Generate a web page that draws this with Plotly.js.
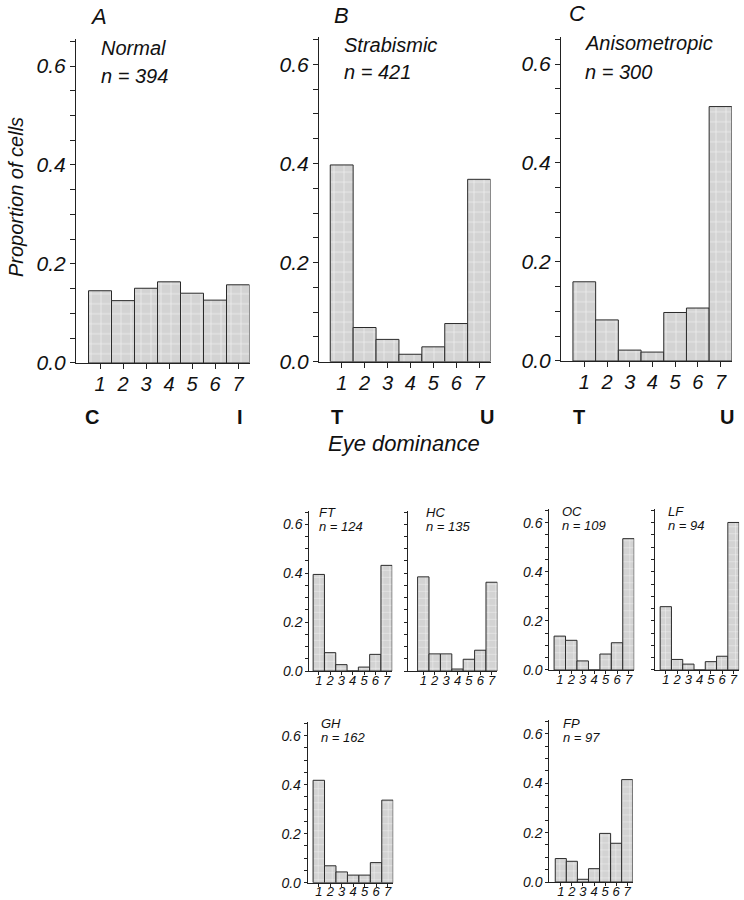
<!DOCTYPE html>
<html>
<head>
<meta charset="utf-8">
<script src="https://cdn.plot.ly/plotly-3.0.1.min.js"></script>
<style>html,body{margin:0;padding:0;background:#fff;}#chart{width:744px;height:900px;}</style>
</head>
<body>
<div id="chart"></div>
<script>
// ---------- DATA ----------
const categories = [1, 2, 3, 4, 5, 6, 7];
const normalVals = [0.146, 0.126, 0.151, 0.164, 0.141, 0.127, 0.158];
const strabVals  = [0.397, 0.069, 0.045, 0.015, 0.030, 0.077, 0.368];
const anisoVals  = [0.160, 0.083, 0.022, 0.018, 0.098, 0.107, 0.514];
const ftVals = [0.395, 0.075, 0.026, 0.000, 0.016, 0.068, 0.432];
const hcVals = [0.385, 0.070, 0.070, 0.008, 0.048, 0.085, 0.363];
const ocVals = [0.138, 0.121, 0.037, 0.000, 0.065, 0.111, 0.535];
const lfVals = [0.258, 0.043, 0.024, 0.000, 0.034, 0.056, 0.601];
const ghVals = [0.418, 0.069, 0.044, 0.031, 0.031, 0.082, 0.337];
const fpVals = [0.095, 0.084, 0.011, 0.054, 0.197, 0.157, 0.415];
const panelLetters = ['A', 'B', 'C'];
const groupNames = ['Normal', 'Strabismic', 'Anisometropic', 'FT', 'HC', 'OC', 'LF', 'GH', 'FP'];
const groupN = [394, 421, 300, 124, 135, 109, 94, 162, 97];
const endLabels = [['C', 'I'], ['T', 'U'], ['T', 'U']];
const yTickVals = [0, 0.2, 0.4, 0.6];
const yTickText = ['0.0', '0.2', '0.4', '0.6'];
const yAxisLabel = 'Proportion of cells';
const xAxisLabel = 'Eye dominance';

// ---------- GEOMETRY (pixels) ----------
const W = 744, H = 900;
const px = v => v / W;
const py = v => 1 - v / H;
const FONT = 'Liberation Sans, Arial, Helvetica, sans-serif';

const seriesVals = [normalVals, strabVals, anisoVals, ftVals, hcVals, ocVals, lfVals, ghVals, fpVals];
const geo = [
  {ax: 76,    c1: 100,   sp: 23,    zy: 363,   u: 495,   big: true,  yl: true},
  {ax: 319,   c1: 341.7, sp: 22.9,  zy: 361.7, u: 495.6, big: true,  yl: true},
  {ax: 561,   c1: 584.3, sp: 22.7,  zy: 361,   u: 495,   big: true,  yl: true},
  {ax: 309.3, c1: 318.8, sp: 11.3,  zy: 671,   u: 244.5, big: false, yl: true},
  {ax: 408.3, c1: 423.3, sp: 11.4,  zy: 671,   u: 244.5, big: false, yl: false},
  {ax: 549.3, c1: 559.8, sp: 11.45, zy: 670,   u: 245.5, big: false, yl: true},
  {ax: 655,   c1: 665.8, sp: 11.28, zy: 670,   u: 245.5, big: false, yl: false},
  {ax: 307.7, c1: 318.8, sp: 11.45, zy: 882.7, u: 245,   big: false, yl: true},
  {ax: 549.3, c1: 560.8, sp: 11.07, zy: 882,   u: 246.7, big: false, yl: true}
];
const txt = [
  [99, 48, 76], [342, 45, 72], [583, 43, 72],
  [317, 512, 526], [424, 512, 526], [560, 511, 525], [666, 511, 525],
  [319, 723, 737], [561, 723, 737]
];
const letterPos = [[88, 17], [332, 15], [567, 14]];
const endPos = [[91.5, 240], [336.7, 487], [579, 727]];
const YMAX = 0.655;

const traces = [];
const layout = {
  width: W, height: H,
  margin: {l: 0, r: 0, t: 0, b: 0},
  paper_bgcolor: '#fff', plot_bgcolor: 'rgba(0,0,0,0)',
  showlegend: false,
  bargap: 0,
  annotations: []
};

geo.forEach((g, i) => {
  const k = i === 0 ? '' : String(i + 1);
  const right = g.c1 + 6 * g.sp + g.sp / 2;
  const r0 = 1 - (g.c1 - g.ax) / g.sp;
  const topPx = g.zy - YMAX * g.u;
  traces.push({
    type: 'bar',
    x: categories,
    y: seriesVals[i],
    width: 1,
    xaxis: 'x' + k, yaxis: 'y' + k,
    marker: {
      color: '#d3d3d3',
      line: {color: '#2a2a2a', width: 1},
      pattern: {shape: '+', bgcolor: '#d3d3d3', fgcolor: '#f4f4f4', size: g.big ? 10 : 7, solidity: 0.12}
    },
    hoverinfo: 'skip'
  });
  layout['xaxis' + k] = {
    domain: [px(g.ax), px(right)],
    range: [r0, 7.5],
    anchor: 'y' + k,
    tickvals: categories,
    ticktext: categories.map(String),
    ticks: 'outside', ticklen: g.big ? 5 : 3, tickwidth: 1, tickcolor: '#222',
    ticklabelstandoff: g.big ? -2 : -6,
    showline: true, linecolor: '#222', linewidth: 1,
    showgrid: false, zeroline: false, fixedrange: true,
    tickfont: {family: FONT, size: g.big ? 20 : 13, style: 'italic', color: '#111'}
  };
  layout['yaxis' + k] = {
    domain: [py(g.zy), py(topPx)],
    range: [0, YMAX],
    anchor: 'x' + k,
    tickvals: yTickVals,
    ticktext: yTickText,
    showticklabels: g.yl,
    ticks: 'outside', ticklen: g.big ? 5 : 3, tickwidth: 1, tickcolor: '#222',
    minor: {dtick: 0.05, tick0: 0, ticks: 'outside', ticklen: g.big ? 5 : 3, tickwidth: 1, tickcolor: '#222'},
    showline: true, linecolor: '#222', linewidth: 1,
    showgrid: false, zeroline: false, fixedrange: true,
    tickfont: {family: FONT, size: g.big ? 21 : 14, style: 'italic', color: '#111'}
  };
  const fs = g.big ? 20 : 13;
  layout.annotations.push({
    xref: 'paper', yref: 'paper', x: px(txt[i][0]), y: py(txt[i][1]),
    xanchor: 'left', yanchor: 'middle', showarrow: false,
    text: groupNames[i], font: {family: FONT, size: fs, style: 'italic', color: '#111'}
  });
  layout.annotations.push({
    xref: 'paper', yref: 'paper', x: px(txt[i][0]), y: py(txt[i][2]),
    xanchor: 'left', yanchor: 'middle', showarrow: false,
    text: 'n = ' + groupN[i], font: {family: FONT, size: fs, style: 'italic', color: '#111'}
  });
});

panelLetters.forEach((L, i) => {
  layout.annotations.push({
    xref: 'paper', yref: 'paper', x: px(letterPos[i][0]), y: py(letterPos[i][1]),
    xanchor: 'left', yanchor: 'middle', showarrow: false,
    text: L, font: {family: FONT, size: 22, style: 'italic', color: '#111'}
  });
  endLabels[i].forEach((t, j) => {
    layout.annotations.push({
      xref: 'paper', yref: 'paper', x: px(endPos[i][j]), y: py(417),
      xanchor: 'center', yanchor: 'middle', showarrow: false,
      text: '<b>' + t + '</b>', font: {family: FONT, size: 20, color: '#111'}
    });
  });
});

layout.annotations.push({
  xref: 'paper', yref: 'paper', x: px(16), y: py(197),
  xanchor: 'center', yanchor: 'middle', showarrow: false, textangle: -90,
  text: yAxisLabel, font: {family: FONT, size: 20, style: 'italic', color: '#111'}
});
layout.annotations.push({
  xref: 'paper', yref: 'paper', x: px(404), y: py(443),
  xanchor: 'center', yanchor: 'middle', showarrow: false,
  text: xAxisLabel, font: {family: FONT, size: 22, style: 'italic', color: '#111'}
});

Plotly.newPlot('chart', traces, layout, {staticPlot: true, displayModeBar: false});
</script>
</body>
</html>
